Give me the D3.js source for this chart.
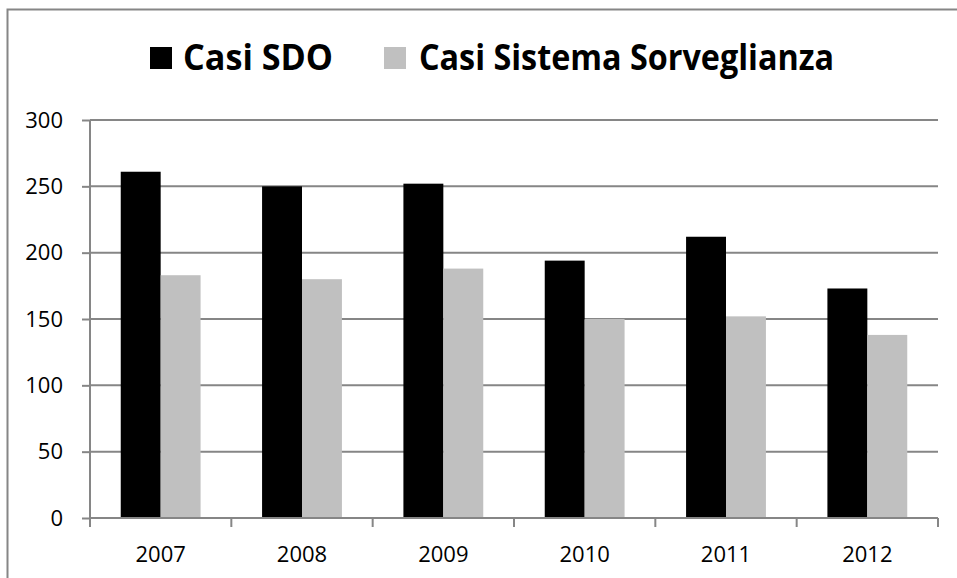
<!DOCTYPE html>
<html>
  <head>
    <meta charset="UTF-8" />
    <title></title>
    <style>
      body { margin: 0; background: #fff; }
      text { font-family: 'Open Sans', sans-serif; fill: #000; }
    </style>
    <script src="https://d3js.org/d3.v7.min.js"></script>
  </head>
  <body>
    <div id="viz"></div>
    <script>
      // data
      const years = ['2007', '2008', '2009', '2010', '2011', '2012'];
      const series = ['Casi SDO', 'Casi Sistema Sorveglianza'];
      const sdo = [261, 250, 252, 194, 212, 173];
      const sorveglianza = [183, 180, 188, 150, 152, 138];
      const yTicks = [0, 50, 100, 150, 200, 250, 300];
      const colors = ['#000000', '#c0c0c0'];

      const width = 957;
      const height = 578;
      const margin = { left: 90, right: 19, top: 120, bottom: 60 };
      const innerW = width - margin.left - margin.right;
      const innerH = height - margin.top - margin.bottom;

      const rows = years.map((y, i) => ({ year: y, values: [sdo[i], sorveglianza[i]] }));

      const svg = d3.select('#viz')
        .append('svg')
        .attr('width', width)
        .attr('height', height);

      // outer frame
      svg.append('rect')
        .attr('x', 7.5)
        .attr('y', 9.5)
        .attr('width', 960)
        .attr('height', 600)
        .attr('fill', 'none')
        .attr('stroke', '#868686')
        .attr('stroke-width', 2);

      const chart = svg.append('g')
        .attr('transform', `translate(${margin.left},${margin.top})`);

      const x = d3.scaleBand().domain(years).range([0, innerW]);
      const x1 = d3.scaleBand()
        .domain(series)
        .range([0, x.bandwidth()])
        .paddingInner(0)
        .paddingOuter(0.77);
      const y = d3.scaleLinear().domain([0, 300]).range([innerH, 0]);

      // gridlines
      chart.append('g')
        .selectAll('line')
        .data(yTicks)
        .join('line')
        .attr('x1', 0)
        .attr('x2', innerW)
        .attr('y1', d => y(d))
        .attr('y2', d => y(d))
        .attr('stroke', '#868686')
        .attr('stroke-width', 2);

      // bars
      chart.append('g')
        .selectAll('g')
        .data(rows)
        .join('g')
        .attr('transform', d => `translate(${x(d.year)},0)`)
        .selectAll('rect')
        .data(d => d.values.map((v, i) => ({ key: series[i], v, i })))
        .join('rect')
        .attr('x', d => x1(d.key))
        .attr('width', x1.bandwidth())
        .attr('y', d => y(d.v))
        .attr('height', d => innerH - y(d.v))
        .attr('fill', d => colors[d.i]);

      // y axis
      const axisY = chart.append('g')
        .call(d3.axisLeft(y).tickValues(yTicks).tickSize(8).tickPadding(19));
      axisY.select('.domain').attr('stroke', '#868686').attr('stroke-width', 2)
        .attr('d', `M0,${innerH + 8}V0`);
      axisY.selectAll('.tick line').attr('stroke', '#868686').attr('stroke-width', 2);
      axisY.selectAll('.tick text')
        .attr('font-size', 22)
        .attr('font-family', "'Open Sans', sans-serif")
        .attr('fill', '#000');

      // x axis
      const axisX = chart.append('g')
        .attr('transform', `translate(0,${innerH})`)
        .call(d3.axisBottom(x).tickSize(0).tickPadding(28));
      axisX.select('.domain').attr('stroke', '#868686').attr('stroke-width', 2)
        .attr('d', `M0,0H${innerW}`);
      axisX.selectAll('.tick text')
        .attr('font-size', 22)
        .attr('font-family', "'Open Sans', sans-serif")
        .attr('fill', '#000');
      // category boundary ticks
      axisX.append('g')
        .selectAll('line')
        .data(years.concat(['end']))
        .join('line')
        .attr('x1', (d, i) => i * x.step())
        .attr('x2', (d, i) => i * x.step())
        .attr('y1', 0)
        .attr('y2', 9)
        .attr('stroke', '#868686')
        .attr('stroke-width', 2);

      // legend
      const legend = svg.append('g');
      const legendItems = [
        { x: 150, tx: 183, len: 150 },
        { x: 384, tx: 419, len: 415 },
      ];
      legendItems.forEach((l, i) => {
        legend.append('rect')
          .attr('x', l.x)
          .attr('y', 47)
          .attr('width', 22)
          .attr('height', 22)
          .attr('fill', colors[i]);
        legend.append('text')
          .attr('x', l.tx)
          .attr('y', 70)
          .attr('font-size', 35)
          .attr('font-weight', 'bold')
          .attr('textLength', l.len)
          .attr('lengthAdjust', 'spacingAndGlyphs')
          .text(series[i]);
      });
    </script>
  </body>
</html>
